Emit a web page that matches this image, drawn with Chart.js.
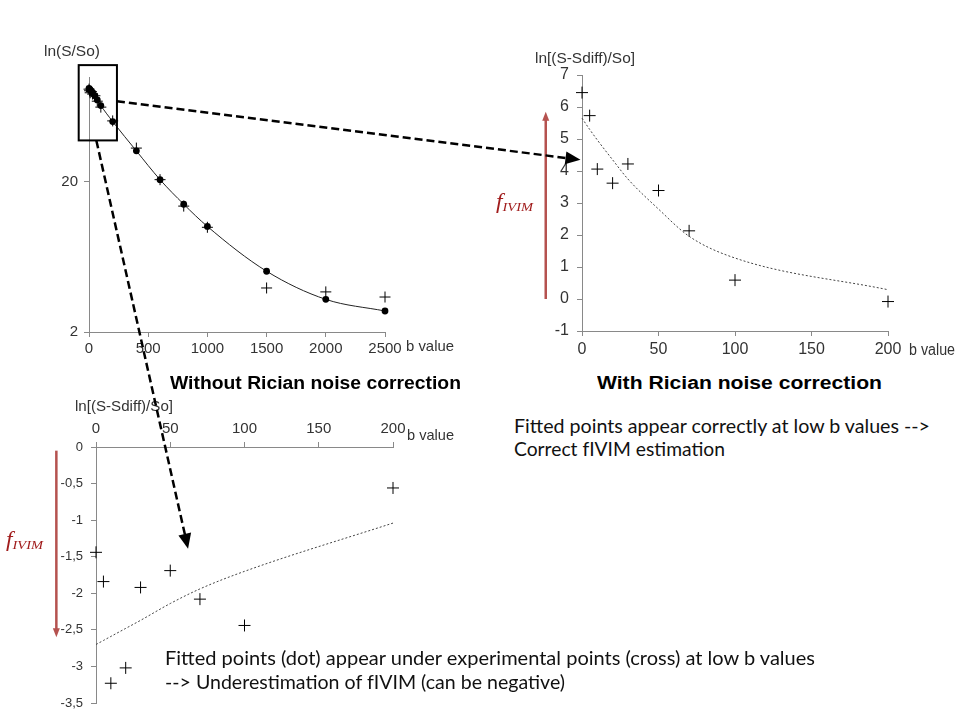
<!DOCTYPE html>
<html><head><meta charset="utf-8">
<script src="https://cdn.jsdelivr.net/npm/chart.js@4.4.1/dist/chart.umd.min.js"></script>
<style>
html,body{margin:0;padding:0;background:#fff;}
#page{position:relative;width:960px;height:720px;overflow:hidden;background:#fff;}
canvas.c{position:absolute;}
.t{position:absolute;white-space:nowrap;transform-origin:0 0;line-height:normal;}
</style></head><body>
<div id="page">
<canvas id="c1" class="c" width="480" height="370" style="left:0px;top:0px;width:480px;height:370px"></canvas>
<canvas id="c2" class="c" width="480" height="370" style="left:480px;top:0px;width:480px;height:370px"></canvas>
<canvas id="c3" class="c" width="480" height="330" style="left:0px;top:390px;width:480px;height:330px"></canvas>
<canvas id="ov" class="c" width="960" height="720" style="left:0;top:0;width:960px;height:720px;pointer-events:none;z-index:5"></canvas>
</div>
<script>
// ---------- data ----------
// Top-left: without correction, full b range (log y)
const bTop    = [0, 5, 10, 20, 30, 50, 70, 100, 200, 400, 600, 800, 1000, 1500, 2000, 2500];
const fitTop  = [84, 83, 82, 80.5, 78.5, 75, 70.4, 64.5, 50.5, 32.2, 20.7, 14.2, 10.1, 5.08, 3.30, 2.76];
const measTop = [83, 81, 78.5, 80, 77, 75, 69, 63, 51, 33.6, 20.7, 13.8, 9.97, 3.93, 3.70, 3.42];
const xTicksTop = [0, 500, 1000, 1500, 2000, 2500];
const yTicksTop = [2, 20];

// Top-right: with Rician noise correction
const bRight    = [0, 5, 10, 20, 30, 50, 70, 100, 200];
const measRight = [6.45, 5.73, 4.06, 3.62, 4.22, 3.39, 2.13, 0.59, -0.08];
const fitRight  = [5.65, 5.30, 4.97, 4.35, 3.75, 2.81, 1.96, 1.28, 0.29];
const xTicksRight = [0, 50, 100, 150, 200];
const yTicksRight = [-1, 0, 1, 2, 3, 4, 5, 6, 7];

// Bottom: without correction, low b range
const bBottom    = [0, 5, 10, 20, 30, 50, 70, 100, 200];
const measBottom = [-1.44, -1.84, -3.23, -3.02, -1.92, -1.69, -2.08, -2.44, -0.56];
const fitBottom  = [-2.70, -2.645, -2.59, -2.48, -2.37, -2.14, -1.94, -1.70, -1.04];
const xTicksBottom = [0, 50, 100, 150, 200];
const yTicksBottom = [0, -0.5, -1, -1.5, -2, -2.5, -3, -3.5];

// ---------- style ----------
const AXIS = '#898989', TXT = '#333333', RED = '#b5524f', FRED = '#a11d1d';
const FONT = "'Liberation Sans', Arial, sans-serif";
const NOTE = "Lato, 'Noto Sans', sans-serif";
const SERIF = "'Liberation Serif', 'Times New Roman', serif";

function pts(xs, ys){ return xs.map((x,i)=>({x:x, y:ys[i]})); }
function fixedTicks(arr){ return s => { s.ticks = arr.map(v=>({value:v})); }; }

function axis(extra){
  return Object.assign({
    grid:{display:true, drawOnChartArea:false, drawTicks:true, tickLength:5, color:AXIS, lineWidth:1},
    border:{display:true, color:AXIS, width:1}
  }, extra);
}
function crossSet(data, r){
  return {data:data, showLine:false, pointStyle:'cross', pointRadius:r, pointHoverRadius:r,
    borderColor:'#000', pointBorderColor:'#000', borderWidth:1, pointBorderWidth:1, clip:false};
}
function baseOpts(padding, scales){
  return {responsive:false, animation:false, events:[], devicePixelRatio: window.devicePixelRatio||1,
    layout:{padding:padding},
    plugins:{legend:{display:false}, tooltip:{enabled:false}},
    scales:scales};
}

function vArrow(ctx, x, yFrom, yTo, color, w, hl, hw){
  const dir = yTo < yFrom ? -1 : 1;
  ctx.save();
  ctx.strokeStyle = color; ctx.fillStyle = color; ctx.lineWidth = w;
  ctx.beginPath(); ctx.moveTo(x, yFrom); ctx.lineTo(x, yTo - dir*hl*0.6); ctx.stroke();
  ctx.beginPath(); ctx.moveTo(x, yTo); ctx.lineTo(x-hw, yTo - dir*hl); ctx.lineTo(x+hw, yTo - dir*hl); ctx.closePath(); ctx.fill();
  ctx.restore();
}

// ---------- chart 1 (top-left) ----------
const boxB = [-87, 236], boxV = [120, 37.8];
const boxPlugin = {id:'zoomBox', afterDraw(chart){
  const {ctx, scales:{x, y}} = chart;
  const x0 = x.getPixelForValue(boxB[0]), x1 = x.getPixelForValue(boxB[1]);
  const y0 = y.getPixelForValue(boxV[0]), y1 = y.getPixelForValue(boxV[1]);
  ctx.save(); ctx.strokeStyle = '#000'; ctx.lineWidth = 2;
  ctx.strokeRect(x0, y0, x1-x0, y1-y0); ctx.restore();
}};
const ch1 = new Chart(document.getElementById('c1'), {
  type:'scatter',
  data:{datasets:[
    {data:pts(bTop, fitTop), showLine:true, borderColor:'#222', borderWidth:1, pointRadius:3.4, pointHoverRadius:3.4,
     pointBackgroundColor:'#000', pointBorderColor:'#000', pointBorderWidth:0, cubicInterpolationMode:'monotone', clip:false},
    crossSet(pts(bTop, measTop), 5.5)
  ]},
  options: baseOpts({left:0, top:77, right:95, bottom:8}, {
    x: axis({type:'linear', min:0, max:2500, afterBuildTicks:fixedTicks(xTicksTop), afterFit:s=>{s.height=30;},
      ticks:{color:TXT, font:{family:FONT, size:15}, padding:3, maxRotation:0, callback:v=>String(v)}}),
    y: axis({type:'logarithmic', min:2, max:100, afterBuildTicks:fixedTicks(yTicksTop), afterFit:s=>{s.width=89;},
      ticks:{color:TXT, font:{family:FONT, size:15}, padding:6, callback:v=>String(v)}})
  }),
  plugins:[boxPlugin]
});

// ---------- chart 2 (top-right) ----------
const redArrowRight = {b:-23.7, from:0, to:5.85};
const ch2 = new Chart(document.getElementById('c2'), {
  type:'scatter',
  data:{datasets:[
    {data:pts(bRight, fitRight), showLine:true, borderColor:'#444', borderWidth:1, borderDash:[2,2], pointRadius:0,
     cubicInterpolationMode:'monotone', clip:false},
    crossSet(pts(bRight, measRight), 6)
  ]},
  options: baseOpts({left:0, top:75, right:72, bottom:9}, {
    x: axis({type:'linear', min:0, max:200, afterBuildTicks:fixedTicks(xTicksRight), afterFit:s=>{s.height=30;},
      ticks:{color:TXT, font:{family:FONT, size:16}, padding:4, maxRotation:0, callback:v=>String(v)}}),
    y: axis({type:'linear', min:-1, max:7, afterBuildTicks:fixedTicks(yTicksRight), afterFit:s=>{s.width=102;},
      ticks:{color:TXT, font:{family:FONT, size:16}, padding:8, callback:v=>String(v)}})
  }),
  plugins:[{id:'redArrow2', afterDraw(chart){
    const {ctx, scales:{x, y}} = chart;
    vArrow(ctx, x.getPixelForValue(redArrowRight.b), y.getPixelForValue(redArrowRight.from), y.getPixelForValue(redArrowRight.to), RED, 2.5, 9, 3.5);
  }}]
});

// ---------- chart 3 (bottom) ----------
const redArrowBottom = {b:-26.7, from:-0.05, to:-2.6};
const ch3 = new Chart(document.getElementById('c3'), {
  type:'scatter',
  data:{datasets:[
    {data:pts(bBottom, fitBottom), showLine:true, borderColor:'#444', borderWidth:1, borderDash:[2,2], pointRadius:0,
     cubicInterpolationMode:'monotone', clip:false},
    crossSet(pts(bBottom, measBottom), 6)
  ]},
  options: baseOpts({left:0, top:32, right:87, bottom:17}, {
    x: axis({type:'linear', position:'top', min:0, max:200, afterBuildTicks:fixedTicks(xTicksBottom), afterFit:s=>{s.height=25;},
      ticks:{color:TXT, font:{family:FONT, size:15}, padding:4, maxRotation:0, callback:v=>String(v)}}),
    y: axis({type:'linear', min:-3.5, max:0, afterBuildTicks:fixedTicks(yTicksBottom), afterFit:s=>{s.width=96;},
      ticks:{color:TXT, font:{family:FONT, size:13}, padding:8, callback:v=>String(v).replace('.', ',')}})
  }),
  plugins:[{id:'redArrow3', afterDraw(chart){
    const {ctx, scales:{x, y}} = chart;
    vArrow(ctx, x.getPixelForValue(redArrowBottom.b), y.getPixelForValue(redArrowBottom.from), y.getPixelForValue(redArrowBottom.to), RED, 2.5, 9, 3.5);
  }}]
});

// ---------- dashed zoom arrows (overlay) ----------
function pagePt(chart, offX, offY, b, v){
  return [offX + chart.scales.x.getPixelForValue(b), offY + chart.scales.y.getPixelForValue(v)];
}
function dashArrow(ctx, p0, p1){
  const dx = p1[0]-p0[0], dy = p1[1]-p0[1], L = Math.hypot(dx, dy), ux = dx/L, uy = dy/L;
  const hl = 15, hw = 6.5;
  const bx = p1[0]-ux*hl, by = p1[1]-uy*hl;
  ctx.save();
  ctx.strokeStyle = '#000'; ctx.fillStyle = '#000'; ctx.lineWidth = 2.5; ctx.setLineDash([8,4]);
  ctx.beginPath(); ctx.moveTo(p0[0], p0[1]); ctx.lineTo(bx+ux*2, by+uy*2); ctx.stroke();
  ctx.setLineDash([]);
  ctx.beginPath(); ctx.moveTo(p1[0], p1[1]); ctx.lineTo(bx - uy*hw, by + ux*hw); ctx.lineTo(bx + uy*hw, by - ux*hw); ctx.closePath(); ctx.fill();
  ctx.restore();
}
const arrowA = {from:{b:236, v:69}, to:{b:-1, v:4.35}};
const arrowB = {from:{b:62, v:37.8}, to:{b:62, v:-1.39}};
const ov = document.getElementById('ov').getContext('2d');
dashArrow(ov, pagePt(ch1, 0, 0, arrowA.from.b, arrowA.from.v), pagePt(ch2, 480, 0, arrowA.to.b, arrowA.to.v));
dashArrow(ov, pagePt(ch1, 0, 0, arrowB.from.b, arrowB.from.v), pagePt(ch3, 0, 390, arrowB.to.b, arrowB.to.v));

// ---------- texts ----------
const page = document.getElementById('page');
function addText(html, o){
  const d = document.createElement('div'); d.className = 't';
  d.style.font = o.font; d.style.color = o.color || '#000';
  d.innerHTML = html;
  const m = document.createElement('span');
  m.style.cssText = 'display:inline-block;width:0;height:0;vertical-align:baseline;';
  d.appendChild(m);
  d.style.left = o.left + 'px'; d.style.top = '0px';
  page.appendChild(d);
  const base = m.offsetTop;
  d.style.top = (o.baseline - base) + 'px';
  if (o.width){
    const w = d.getBoundingClientRect().width;
    d.style.transform = 'scaleX(' + (o.width / w) + ')';
  }
  return d;
}
addText('ln(S/So)', {left:44, baseline:56, width:56, font:'15px '+FONT, color:TXT});
addText('b value', {left:406, baseline:351, width:48, font:'15px '+FONT, color:TXT});
addText('ln[(S-Sdiff)/So]', {left:535, baseline:62.5, width:100, font:'15px '+FONT, color:TXT});
addText('b value', {left:909, baseline:355, width:46, font:'16px '+FONT, color:TXT});
addText('ln[(S-Sdiff)/So]', {left:75, baseline:410.5, width:98, font:'15px '+FONT, color:TXT});
addText('b value', {left:407, baseline:440, width:47, font:'15px '+FONT, color:TXT});

addText('Without Rician noise correction', {left:170, baseline:388.5, width:291, font:'bold 18px '+FONT, color:'#000'});
addText('With Rician noise correction', {left:597, baseline:388.5, width:285, font:'bold 18px '+FONT, color:'#000'});

addText('Fitted points appear correctly at low b values --&gt;', {left:514, baseline:433, width:416, font:'20px '+NOTE, color:'#111'});
addText('Correct fIVIM estimation', {left:514, baseline:455.5, width:211, font:'20px '+NOTE, color:'#111'});
addText('Fitted points (dot) appear under experimental points (cross) at low b values', {left:165, baseline:665, width:650, font:'20px '+NOTE, color:'#111'});
addText('--&gt; Underestimation of fIVIM (can be negative)', {left:165, baseline:689, width:400, font:'20px '+NOTE, color:'#111'});

const fHtml = '<span style="font:italic 21px '+SERIF.replace(/"/g,'')+'">f</span><span style="font:italic 13px '+SERIF.replace(/"/g,'')+';position:relative;top:3px">IVIM</span>';
addText(fHtml, {left:496, baseline:208, width:37, font:'italic 21px '+SERIF, color:FRED});
addText(fHtml, {left:6, baseline:546, width:37, font:'italic 21px '+SERIF, color:FRED});
</script>
</body></html>
